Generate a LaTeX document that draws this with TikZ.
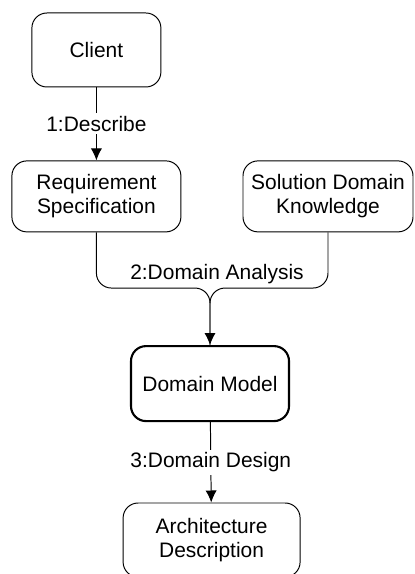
\documentclass[tikz,border=0pt]{standalone}
\usepackage{fontspec}
\setmainfont{Liberation Sans}
\usetikzlibrary{calc,arrows.meta}
\tikzset{>={Latex[length=3mm,width=2.8mm]}}
\tikzset{
  box/.style={draw,line width=0.7pt,rounded corners=0.375cm,align=center,
              font=\fontsize{14.9pt}{17pt}\selectfont},
  boldbox/.style={box,line width=1.5pt},
  flowlabel/.style={fill=white,inner sep=2pt,font=\fontsize{14.9pt}{17pt}\selectfont}
}

\begin{document}
\begin{tikzpicture}[line width=0.7pt]
  \useasboundingbox (0,0) rectangle (10.35,14.35);
  % boxes
  \node[box,minimum width=3.225cm,minimum height=1.85cm]  (client) at (2.41,13.1)  {Client};
  \node[box,minimum width=4.225cm,minimum height=1.775cm] (req)    at (2.41,9.44)  {Requirement\\Specification};
  \node[box,minimum width=4.25cm,minimum height=1.775cm]  (sol)    at (8.2,9.44)   {Solution Domain\\Knowledge};
  \node[boldbox,minimum width=3.95cm,minimum height=1.875cm] (model) at (5.25,4.76) {Domain Model};
  \node[box,minimum width=4.425cm,minimum height=1.85cm]  (arch)   at (5.29,0.85)  {Architecture\\Description};
  % 1: describe
  \draw[->] (client) -- node[flowlabel] (describe) {1:Describe} (req);
  % 2: domain analysis
  \coordinate (merge) at ($(model.north)+(0,1.425)$);
  \draw[->,rounded corners=0.375cm] (req.south) |- (merge) -- (model.north);
  \draw[rounded corners=0.375cm] (sol.south) |- (merge) -- (model.north);
  \node[flowlabel,fill=none] (analysis) at (5.425,7.5) {2:Domain Analysis};
  % 3: domain design
  \draw[->] (model) -- node[flowlabel] (design) {3:Domain Design} (arch);
\end{tikzpicture}
\end{document}
